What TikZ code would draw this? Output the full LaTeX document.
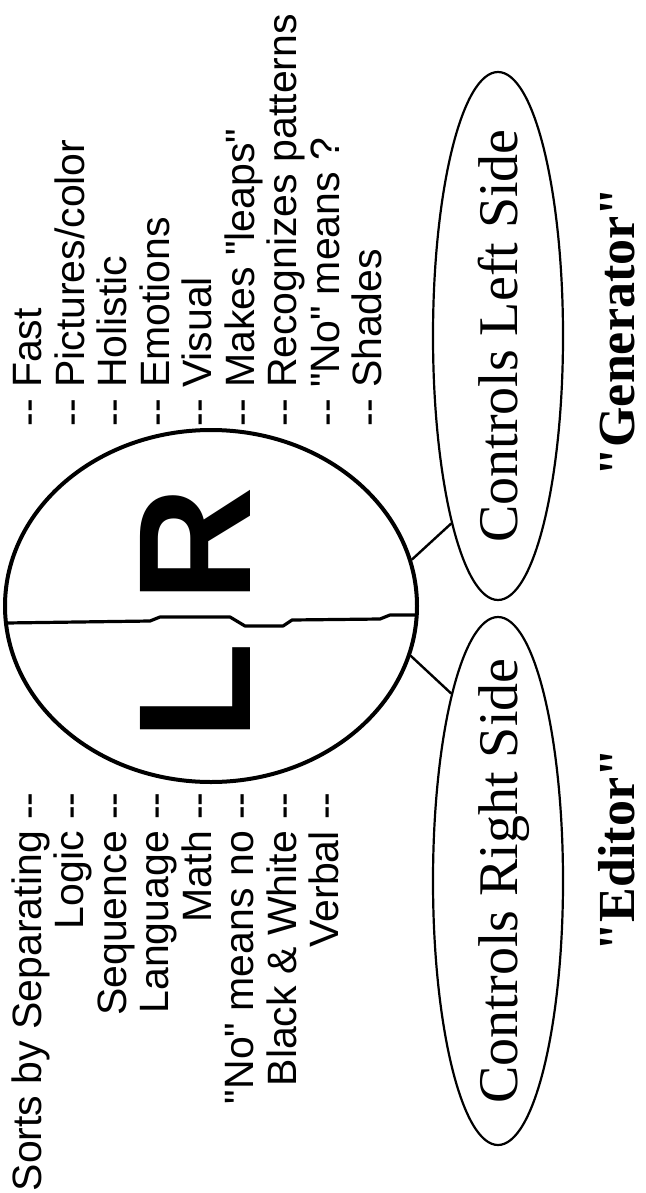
\documentclass[tikz,border=0pt]{standalone}
\usepackage{fontspec}
\newfontfamily\serifface{Liberation Serif}
\newfontfamily\listfont{Liberation Sans}
\usetikzlibrary{shapes.geometric}

\begin{document}
\begin{tikzpicture}[x=0.5pt, y=-0.5pt,
    brainline/.style={line width=2pt, line join=round},
    ctl/.style={
        draw, ellipse, line width=1.1pt, rotate=90,
        minimum width=264pt, minimum height=65pt,
        inner sep=0pt, text height=19.3pt, text depth=0pt,
        font=\serifface\fontsize{28}{30}\selectfont
    },
    side/.style={
        rotate=90, inner sep=0pt,
        font=\listfont\bfseries\fontsize{80}{80}\selectfont
    },
    lst/.style={
        rotate=90, inner sep=0pt,
        font=\listfont\fontsize{20.5}{21.25}\selectfont
    },
    role/.style={
        rotate=90, inner sep=0pt, anchor=base,
        font=\serifface\bfseries\fontsize{26}{30}\selectfont
    },
    link/.style={line width=1.2pt}
]

\useasboundingbox (0,0) rectangle (646,1193);

% =========================
% BRAIN
% =========================
\node[draw, ellipse, brainline,
      minimum width=206pt, minimum height=176pt] (brain) at (211,606) {};

% split between the halves
\draw[line width=1.6pt, line join=round] (6,623) -- (150,621) -- (160,617)
    -- (230,617) -- (245,626) -- (283,626) -- (292,620) -- (380,619)
    -- (390,615) -- (415,615);

\node[side] (Rside) at (195,545) {R};
\node[side] (Lside) at (195,692) {L};

% =========================
% LISTS
% =========================
\node[lst, anchor=north east, align=right] (sortlist) at (11,792)
 {Sorts by Separating -{}-\\
  Logic -{}-\\
  Sequence -{}-\\
  Language -{}-\\
  Math -{}-\\
  "No" means no -{}-\\
  Black \& White -{}-\\
  Verbal -{}-};

\node[lst, anchor=north west, align=left] (genlist) at (13,427)
 {-{}- Fast\\
  -{}- Pictures/color\\
  -{}- Holistic\\
  -{}- Emotions\\
  -{}- Visual\\
  -{}- Makes "leaps"\\
  -{}- Recognizes patterns\\
  -{}- "No" means ?\\
  -{}- Shades};

% =========================
% CONTROL ELLIPSES
% =========================
\node[ctl] (leftctl) at (498,336) {\makebox[0pt]{Controls Left Side}};
\node[ctl] (rightctl) at (498,881) {\makebox[0pt]{Controls Right Side}};

\draw[link] (brain.13) -- (leftctl.166);
\draw[link] (brain.-14) -- (rightctl.14);

% =========================
% ROLES
% =========================
\node[role] (gen) at (634,332) {"Generator"};
\node[role] (edit) at (634,850) {"Editor"};

\end{tikzpicture}
\end{document}
